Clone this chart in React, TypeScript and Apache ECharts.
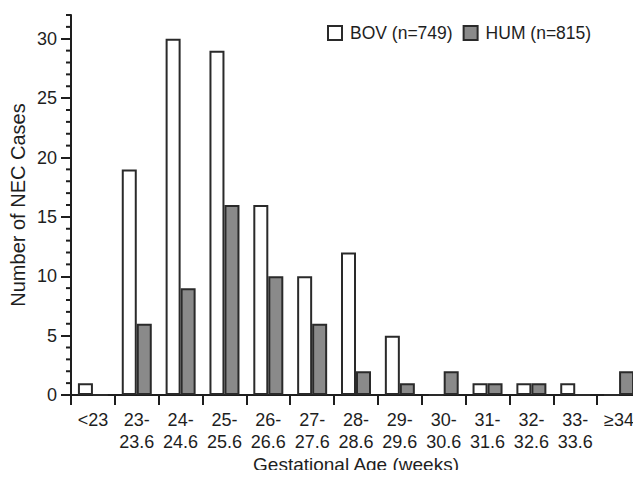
import React, { useEffect, useRef } from "react";
import * as echarts from "echarts";

const categories = ["<23", "23-\n23.6", "24-\n24.6", "25-\n25.6", "26-\n26.6", "27-\n27.6", "28-\n28.6", "29-\n29.6", "30-\n30.6", "31-\n31.6", "32-\n32.6", "33-\n33.6", "≥34"];
const bovValues = [1, 19, 30, 29, 16, 10, 12, 5, 0, 1, 1, 1, 0];
const humValues = [0, 6, 9, 16, 10, 6, 2, 1, 2, 1, 1, 0, 2];
const majorTicks = [0, 5, 10, 15, 20, 25, 30];
const minorTickValues = [1, 2, 3, 4, 6, 7, 8, 9, 11, 12, 13, 14, 16, 17, 18, 19, 21, 22, 23, 24, 26, 27, 28, 29, 31, 32];
const seriesNames = ["BOV (n=749)", "HUM (n=815)"];

const FONT = "'Liberation Sans', Arial, Helvetica, sans-serif";
const INK = "#1e1e1e";

export default function App() {
  const ref = useRef<HTMLDivElement>(null);
  useEffect(() => {
    if (!ref.current) return;
    const chart = echarts.init(ref.current, null, { renderer: "svg" });
    chart.setOption({
      animation: false,
      textStyle: { fontFamily: FONT, color: INK },
      grid: { left: 71, right: 0, top: 15, bottom: 83, containLabel: false, outerBoundsMode: "none" },
      legend: {
        left: 322,
        top: 19,
        itemWidth: 14,
        itemHeight: 14,
        itemGap: 10,
        icon: "rect",
        data: seriesNames,
        textStyle: { fontFamily: FONT, fontSize: 17.5, color: INK, padding: [0, 0, 0, 3] },
      },
      xAxis: {
        type: "category",
        data: categories,
        name: "Gestational Age (weeks)",
        nameLocation: "middle",
        nameGap: 60,
        nameMoveOverlap: false,
        nameTextStyle: { fontFamily: FONT, fontSize: 19, color: INK },
        axisLine: { lineStyle: { color: INK, width: 2 } },
        axisTick: { show: true, length: 10, lineStyle: { color: INK, width: 2 } },
        axisLabel: { fontFamily: FONT, fontSize: 18, lineHeight: 22, margin: 14, color: INK, interval: 0 },
        splitLine: { show: false },
      },
      yAxis: {
        type: "value",
        min: 0,
        max: 32,
        interval: 5,
        name: "Number of NEC Cases",
        nameLocation: "middle",
        nameGap: 43,
        nameMoveOverlap: false,
        nameTextStyle: { fontFamily: FONT, fontSize: 20, color: INK },
        axisLine: { show: true, lineStyle: { color: INK, width: 2 } },
        axisTick: { show: true, length: 10, customValues: majorTicks, lineStyle: { color: INK, width: 2 } },
        axisLabel: { fontFamily: FONT, fontSize: 18, margin: 14, color: INK, customValues: majorTicks },
        splitLine: { show: false },
      },
      series: [
        {
          name: seriesNames[0],
          type: "bar",
          data: bovValues,
          barWidth: 15,
          barGap: "0%",
          itemStyle: { color: "#ffffff", borderColor: "#2a2a2a", borderWidth: 2 },
        },
        {
          name: seriesNames[1],
          type: "bar",
          data: humValues,
          barWidth: 15,
          barGap: "0%",
          itemStyle: { color: "#8a8a8a", borderColor: "#2a2a2a", borderWidth: 2 },
        },
        {
          name: "minorTicks",
          type: "custom",
          silent: true,
          clip: false,
          z: 5,
          data: minorTickValues.map((v) => [0, v]),
          encode: { x: 0, y: 1 },
          renderItem: (params: any, api: any) => {
            const v = api.value(1);
            const pt = api.coord([0, v]);
            const cs = params.coordSys;
            return {
              type: "line",
              shape: { x1: cs.x - 5, y1: pt[1], x2: cs.x, y2: pt[1] },
              style: { stroke: INK, lineWidth: 2 },
            };
          },
        },
      ],
    });
    return () => chart.dispose();
  }, []);
  return <div ref={ref} style={{ width: 641, height: 478, margin: -8 }} />;
}
